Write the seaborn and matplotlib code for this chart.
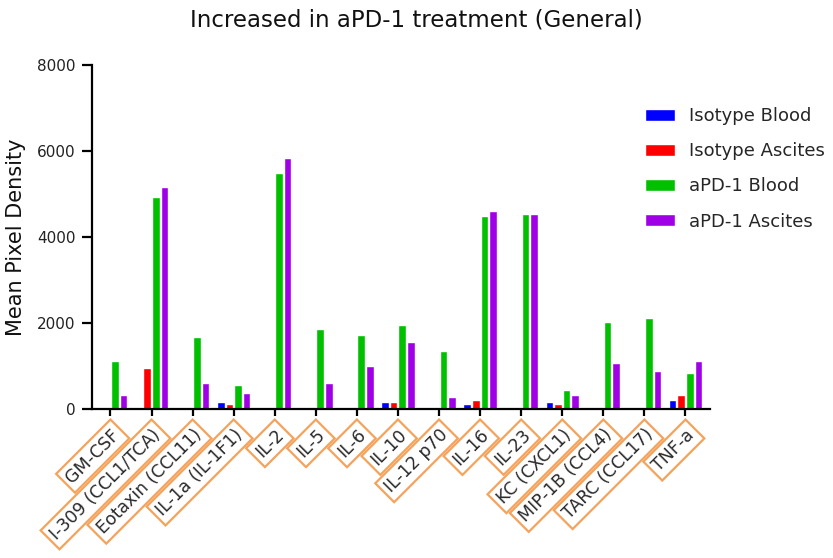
import matplotlib
matplotlib.use("Agg")
import matplotlib.pyplot as plt
import seaborn as sns
import pandas as pd

# Cytokine panel and group labels
cytokines = ["GM-CSF", "I-309 (CCL1/TCA)", "Eotaxin (CCL11)", "IL-1a (IL-1F1)",
             "IL-2", "IL-5", "IL-6", "IL-10", "IL-12 p70", "IL-16", "IL-23",
             "KC (CXCL1)", "MIP-1B (CCL4)", "TARC (CCL17)", "TNF-a"]
groups = ["Isotype Blood", "Isotype Ascites", "aPD-1 Blood", "aPD-1 Ascites"]

# Mean pixel density per group
isotype_blood = [0, 0, 0, 155, 0, 0, 0, 155, 0, 110, 0, 155, 0, 0, 210]
isotype_ascites = [0, 950, 0, 110, 0, 0, 0, 155, 0, 210, 0, 110, 0, 0, 330]
apd1_blood = [1120, 4940, 1680, 550, 5500, 1850, 1730, 1950, 1340, 4490, 4545, 435, 2015, 2125, 830]
apd1_ascites = [330, 5160, 605, 380, 5840, 605, 1010, 1570, 270, 4605, 4545, 325, 1060, 890, 1115]

y_ticks = [0, 2000, 4000, 6000, 8000]
palette = ["#0000FF", "#FF0000", "#00C000", "#A000E6"]

df = pd.DataFrame({
    "cytokine": cytokines * 4,
    "group": [g for g in groups for _ in cytokines],
    "value": isotype_blood + isotype_ascites + apd1_blood + apd1_ascites,
})

sns.set_theme(style="ticks")
plt.rcParams["font.family"] = ["DejaVu Sans"]

fig = plt.figure(figsize=(8.33, 5.58), dpi=100)
ax = fig.add_axes([0.1104, 0.267, 0.7416, 0.6165])

sns.barplot(data=df, x="cytokine", y="value", hue="group", order=cytokines,
            hue_order=groups, palette=palette, width=0.84, gap=0.12,
            saturation=1, errorbar=None, ax=ax, legend=True)

ax.set_xlim(-0.45, 14.59)
ax.set_ylim(0, 8000)
ax.set_yticks(y_ticks)
ax.set_yticklabels([str(t) for t in y_ticks], fontsize=11, color="#222222")
ax.set_ylabel("Mean Pixel Density", fontsize=15, color="#111111", labelpad=8)
ax.set_xlabel("")

ax.set_xticks(range(len(cytokines)))
ax.set_xticklabels(cytokines, rotation=45, ha="right", va="top",
                   rotation_mode="anchor", fontsize=12.5, color="#2a2a2a",
                   bbox=dict(boxstyle="square,pad=0.25", fc="white",
                             ec="#F5A35C", lw=1.6))

for side in ["top", "right"]:
    ax.spines[side].set_visible(False)
for side in ["left", "bottom"]:
    ax.spines[side].set_linewidth(1.6)
    ax.spines[side].set_color("black")
ax.tick_params(axis="y", length=7, width=1.6, pad=5, color="black")
ax.tick_params(axis="x", length=5, width=1.6, pad=7, color="black")

handles, labels = ax.get_legend_handles_labels()
ax.get_legend().remove()
fig.legend(handles, labels, loc="upper left", bbox_to_anchor=(0.774, 0.808),
           frameon=False, fontsize=13, handlelength=1.67, handleheight=0.67,
           handletextpad=0.8, labelspacing=0.95, borderpad=0, borderaxespad=0)

fig.suptitle("Increased in aPD-1 treatment (General)", fontsize=16.5,
             y=0.964, va="center", color="#111111")

fig.savefig("out.png", dpi=100)
